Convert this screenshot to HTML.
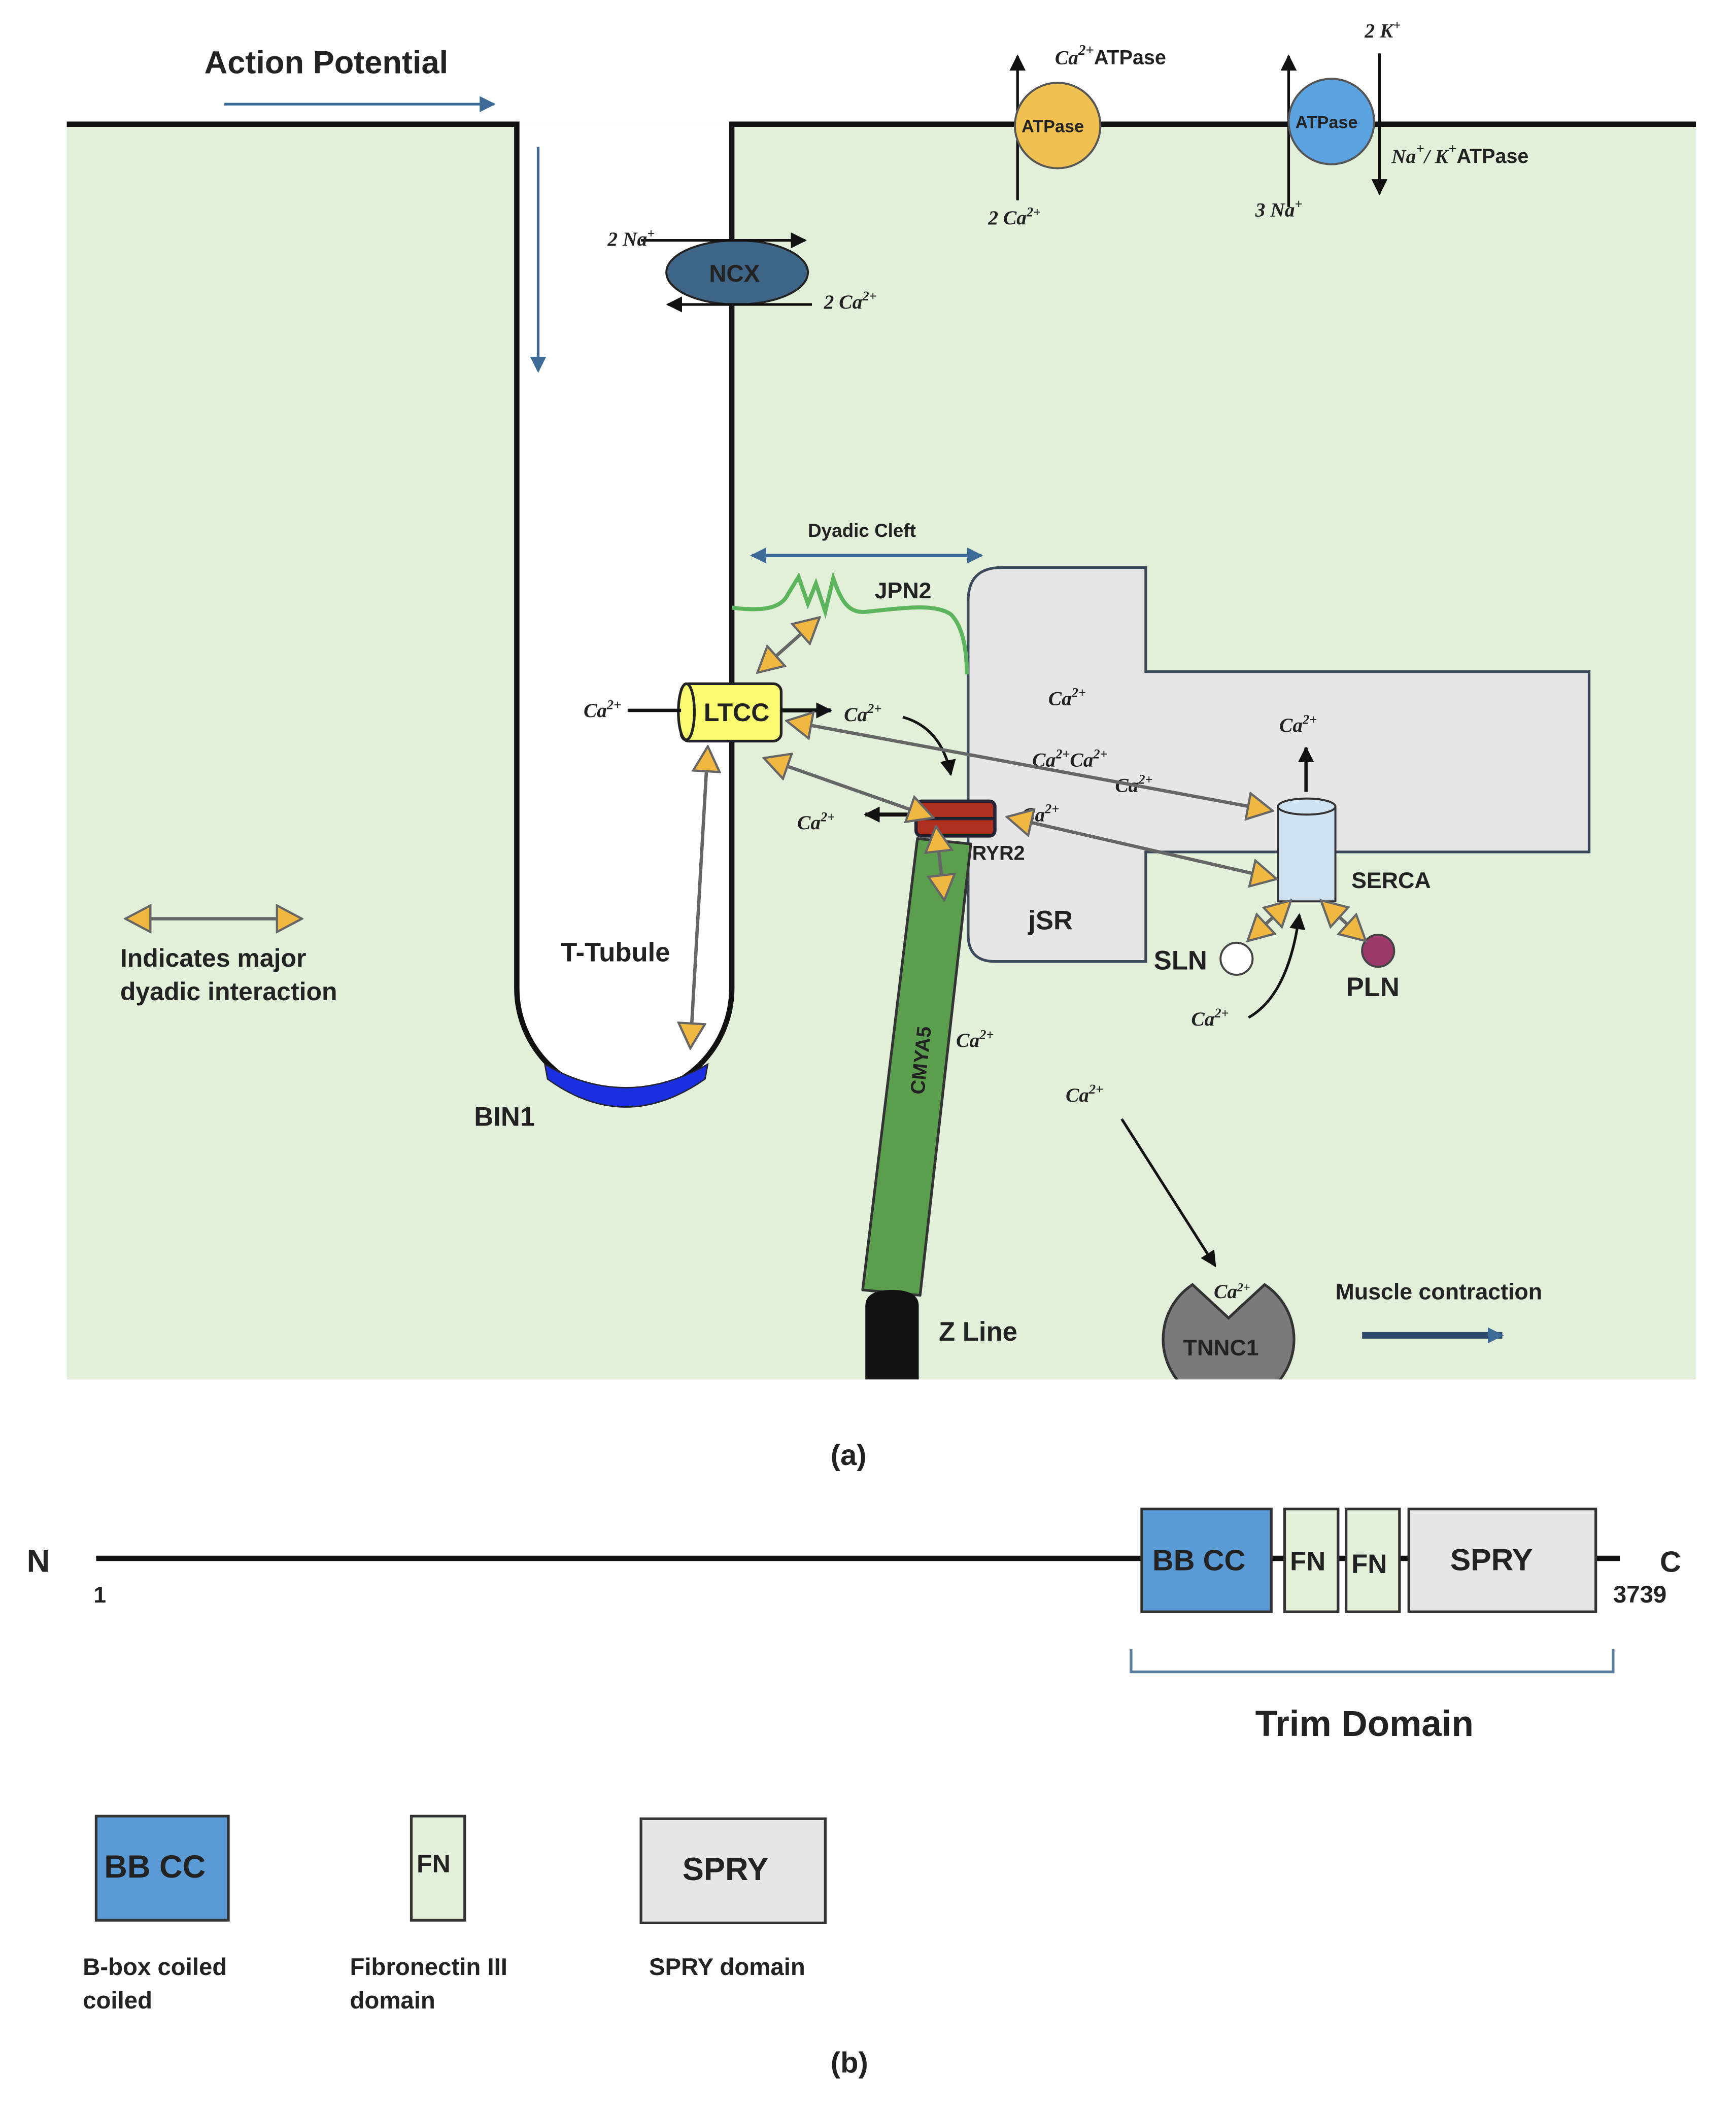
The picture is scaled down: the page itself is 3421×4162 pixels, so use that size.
<!DOCTYPE html>
<html><head><meta charset="utf-8"><style>
html,body{margin:0;padding:0;background:#fff}
svg{display:block}
text{font-family:"Liberation Sans",sans-serif;font-weight:bold;fill:#222}
.i{font-family:"Liberation Serif",serif;font-style:italic;font-weight:bold;font-size:15px}
</style></head><body>
<svg width="3421" height="4162" viewBox="0 0 1300 1581.6" preserveAspectRatio="none" xmlns="http://www.w3.org/2000/svg">
<defs>
<marker id="ot" viewBox="0 0 20 20" refX="18" refY="10" markerWidth="22" markerHeight="22" markerUnits="userSpaceOnUse" orient="auto-start-reverse">
<path d="M2,1 L19,10 L2,19 Z" fill="#f0b840" stroke="#666" stroke-width="1.5"/></marker>
<marker id="ba" viewBox="0 0 10 10" refX="9" refY="5" markerWidth="12" markerHeight="12" markerUnits="userSpaceOnUse" orient="auto-start-reverse">
<path d="M0,0 L10,5 L0,10 Z" fill="#111"/></marker>
<marker id="bl" viewBox="0 0 10 10" refX="9" refY="5" markerWidth="12" markerHeight="12" markerUnits="userSpaceOnUse" orient="auto-start-reverse">
<path d="M0,0 L10,5 L0,10 Z" fill="#3d6a96"/></marker>
<clipPath id="cp"><rect x="0" y="0" width="1300" height="1033"/></clipPath>
</defs>
<rect x="50" y="93" width="1220" height="940" fill="#e2efd9"/>
<path d="M387,93 V740 A80.5,80.5 0 0 0 548,740 V93 Z" fill="#fff"/>
<path d="M50,93 H387 V740 A80.5,80.5 0 0 0 548,740 V93 H1270" fill="none" stroke="#111" stroke-width="4"/>
<path d="M408,797 Q468,832 530,797 L528,808 Q468,850 410,808 Z" fill="#1a2fe0" stroke="#223" stroke-width="1"/>
<text x="153" y="55" font-size="24">Action Potential</text>
<line x1="168" y1="78" x2="370" y2="78" stroke="#3d6a96" stroke-width="2" marker-end="url(#bl)"/>
<line x1="403" y1="110" x2="403" y2="278" stroke="#3d6a96" stroke-width="2" marker-end="url(#bl)"/>
<line x1="762" y1="150" x2="762" y2="42" stroke="#111" stroke-width="2" marker-end="url(#ba)"/>
<circle cx="792" cy="94" r="32" fill="#f0c050" stroke="#555" stroke-width="1.5"/>
<text x="765" y="99" font-size="13">ATPase</text>
<text x="790" y="48" class="i" font-size="18">Ca<tspan dy="-7" font-size="11">2+</tspan><tspan dy="7" font-family="Liberation Sans" font-style="normal">ATPase</tspan></text>
<text x="740" y="168" class="i">2 Ca<tspan dy="-6" font-size="10">2+</tspan></text>
<line x1="965" y1="155" x2="965" y2="42" stroke="#111" stroke-width="2" marker-end="url(#ba)"/>
<line x1="1033" y1="40" x2="1033" y2="145" stroke="#111" stroke-width="2" marker-end="url(#ba)"/>
<circle cx="997" cy="91" r="32" fill="#5ba3e0" stroke="#555" stroke-width="1.5"/>
<text x="970" y="96" font-size="13">ATPase</text>
<text x="1022" y="28" class="i">2 K<tspan dy="-6" font-size="10">+</tspan></text>
<text x="1042" y="122" class="i" font-size="18">Na<tspan dy="-7" font-size="11">+</tspan><tspan dy="7">/ K</tspan><tspan dy="-7" font-size="11">+</tspan><tspan dy="7" font-family="Liberation Sans" font-style="normal">ATPase</tspan></text>
<text x="940" y="162" class="i">3 Na<tspan dy="-6" font-size="10">+</tspan></text>
<ellipse cx="552" cy="204" rx="53" ry="24" fill="#3e6486" stroke="#222" stroke-width="1.5"/>
<text x="531" y="211" font-size="18" fill="#1d2c3a">NCX</text>
<line x1="480" y1="180" x2="603" y2="180" stroke="#111" stroke-width="2" marker-end="url(#ba)"/>
<text x="455" y="184" class="i">2 Na<tspan dy="-6" font-size="10">+</tspan></text>
<line x1="608" y1="228" x2="500" y2="228" stroke="#111" stroke-width="2" marker-end="url(#ba)"/>
<text x="617" y="231" class="i">2 Ca<tspan dy="-6" font-size="10">2+</tspan></text>
<line x1="563" y1="416" x2="735" y2="416" stroke="#3d6a96" stroke-width="2.5" marker-start="url(#bl)" marker-end="url(#bl)"/>
<text x="605" y="402" font-size="14">Dyadic Cleft</text>
<path d="M725,450 Q725,425 750,425 H858 V503 H1190 V638 H858 V720 H745 Q725,720 725,700 Z" fill="#e6e6e6" stroke="#3a4a5a" stroke-width="2"/>
<path d="M548,455 C570,458 585,456 590,445 L598,432 L605,452 L611,437 L618,458 L624,433 C630,450 635,460 650,458 C680,455 700,452 712,460 C722,470 724,490 724,505" fill="none" stroke="#5cb55c" stroke-width="3"/>
<text x="655" y="448" font-size="17">JPN2</text>
<path d="M687,628 L727,632 L689,970 L646,966 Z" fill="#5a9e4e" stroke="#333" stroke-width="2" stroke-linejoin="round"/>
<text transform="translate(692,820) rotate(-84)" font-size="15">CMYA5</text>
<path d="M648,1033 V978 Q648,966 668,966 Q688,966 688,978 V1033 Z" fill="#111"/>
<text x="703" y="1004" font-size="20">Z Line</text>
<rect x="510" y="512" width="75" height="43" rx="6" fill="#fafa70" stroke="#222" stroke-width="2"/>
<ellipse cx="514" cy="533" rx="6" ry="21" fill="#fafa70" stroke="#222" stroke-width="2"/>
<text x="527" y="540" font-size="19">LTCC</text>
<line x1="470" y1="532" x2="510" y2="532" stroke="#111" stroke-width="2.5"/>
<text x="437" y="537" class="i">Ca<tspan dy="-6" font-size="10">2+</tspan></text>
<line x1="585" y1="532" x2="622" y2="532" stroke="#111" stroke-width="3" marker-end="url(#ba)"/>
<text x="632" y="540" class="i">Ca<tspan dy="-6" font-size="10">2+</tspan></text>
<path d="M676,537 Q705,545 712,580" fill="none" stroke="#111" stroke-width="2" marker-end="url(#ba)"/>
<rect x="686" y="600" width="59" height="26" rx="4" fill="#b03020" stroke="#223" stroke-width="2.5"/>
<line x1="690" y1="613" x2="745" y2="613" stroke="#223" stroke-width="2.5"/>
<text x="728" y="644" font-size="15">RYR2</text>
<line x1="683" y1="610" x2="648" y2="610" stroke="#111" stroke-width="3" marker-end="url(#ba)"/>
<text x="597" y="621" class="i">Ca<tspan dy="-6" font-size="10">2+</tspan></text>
<text x="765" y="615" class="i">Ca<tspan dy="-6" font-size="10">2+</tspan></text>
<rect x="957" y="604" width="43" height="71" fill="#cfe3f2" stroke="#333" stroke-width="1.5"/>
<ellipse cx="978.5" cy="604" rx="21.5" ry="6" fill="#cfe3f2" stroke="#333" stroke-width="1.5"/>
<line x1="978" y1="593" x2="978" y2="560" stroke="#111" stroke-width="2.5" marker-end="url(#ba)"/>
<text x="958" y="548" class="i">Ca<tspan dy="-6" font-size="10">2+</tspan></text>
<text x="1012" y="665" font-size="17">SERCA</text>
<circle cx="926" cy="718" r="12" fill="#fff" stroke="#444" stroke-width="1.5"/>
<text x="864" y="726" font-size="20">SLN</text>
<circle cx="1032" cy="712" r="12" fill="#9b3a6a" stroke="#444" stroke-width="1.5"/>
<text x="1008" y="746" font-size="20">PLN</text>
<path d="M935,762 Q965,745 973,685" fill="none" stroke="#111" stroke-width="2" marker-end="url(#ba)"/>
<text x="892" y="768" class="i">Ca<tspan dy="-6" font-size="10">2+</tspan></text>
<text x="785" y="528" class="i">Ca<tspan dy="-6" font-size="10">2+</tspan></text>
<text x="773" y="574" class="i">Ca<tspan dy="-6" font-size="10">2+</tspan><tspan dy="6">Ca</tspan><tspan dy="-6" font-size="10">2+</tspan></text>
<text x="835" y="593" class="i">Ca<tspan dy="-6" font-size="10">2+</tspan></text>
<g stroke="#666" stroke-width="2.5" fill="none">
<line x1="568" y1="503" x2="613" y2="463" marker-start="url(#ot)" marker-end="url(#ot)"/>
<line x1="530" y1="560" x2="517" y2="784" marker-start="url(#ot)" marker-end="url(#ot)"/>
<line x1="590" y1="540" x2="952" y2="607" marker-start="url(#ot)" marker-end="url(#ot)"/>
<line x1="573" y1="568" x2="698" y2="612" marker-start="url(#ot)" marker-end="url(#ot)"/>
<line x1="701" y1="620" x2="707" y2="673" marker-start="url(#ot)" marker-end="url(#ot)"/>
<line x1="755" y1="612" x2="955" y2="658" marker-start="url(#ot)" marker-end="url(#ot)"/>
<line x1="935" y1="704" x2="966" y2="675" marker-start="url(#ot)" marker-end="url(#ot)"/>
<line x1="990" y1="675" x2="1022" y2="704" marker-start="url(#ot)" marker-end="url(#ot)"/>
<line x1="95" y1="688" x2="225" y2="688" marker-start="url(#ot)" marker-end="url(#ot)"/>
</g>
<text x="90" y="724" font-size="19">Indicates major</text>
<text x="90" y="749" font-size="19">dyadic interaction</text>
<text x="420" y="720" font-size="20">T-Tubule</text>
<text x="355" y="843" font-size="20">BIN1</text>
<text x="770" y="696" font-size="20">jSR</text>
<text x="716" y="784" class="i">Ca<tspan dy="-6" font-size="10">2+</tspan></text>
<text x="798" y="825" class="i">Ca<tspan dy="-6" font-size="10">2+</tspan></text>
<line x1="840" y1="838" x2="910" y2="948" stroke="#111" stroke-width="2" marker-end="url(#ba)"/>
<g clip-path="url(#cp)">
<path d="M893,962 L920,987 L947,962 A49,49 0 1 1 893,962 Z" fill="#7a7a7a" stroke="#333" stroke-width="2"/>
</g>
<text x="886" y="1015" font-size="17" fill="#1a1a1a">TNNC1</text>
<text x="909" y="972" class="i" font-size="13">Ca<tspan dy="-5" font-size="9">2+</tspan></text>
<text x="1000" y="973" font-size="17">Muscle contraction</text>
<line x1="1020" y1="1000" x2="1125" y2="1000" stroke="#2d4a6a" stroke-width="5" marker-end="url(#bl)"/>
<text x="622" y="1097" font-family="Liberation Serif" font-weight="normal" font-size="22">(<tspan font-weight="bold">a</tspan>)</text>
<text x="20" y="1177" font-size="24">N</text>
<line x1="72" y1="1167" x2="1213" y2="1167" stroke="#111" stroke-width="4"/>
<rect x="855" y="1130" width="97" height="77" fill="#5b9bd5" stroke="#333" stroke-width="2"/>
<text x="863" y="1176" font-size="22">BB CC</text>
<rect x="962" y="1130" width="40" height="77" fill="#e2efd9" stroke="#333" stroke-width="2"/>
<text x="966" y="1176" font-size="20">FN</text>
<rect x="1008" y="1130" width="40" height="77" fill="#e2efd9" stroke="#333" stroke-width="2"/>
<text x="1012" y="1178" font-size="20">FN</text>
<rect x="1055" y="1130" width="140" height="77" fill="#e6e6e6" stroke="#333" stroke-width="2"/>
<text x="1086" y="1176" font-size="23">SPRY</text>
<text x="1243" y="1177" font-size="22">C</text>
<text x="70" y="1200" font-size="17">1</text>
<text x="1208" y="1200" font-size="18">3739</text>
<path d="M847,1235 V1252 H1208 V1235" fill="none" stroke="#5a7da0" stroke-width="2"/>
<text x="940" y="1300" font-size="27">Trim Domain</text>
<rect x="72" y="1360" width="99" height="78" fill="#5b9bd5" stroke="#333" stroke-width="2"/>
<text x="78" y="1406" font-size="24">BB CC</text>
<rect x="308" y="1360" width="40" height="78" fill="#e2efd9" stroke="#333" stroke-width="2"/>
<text x="312" y="1402" font-size="19">FN</text>
<rect x="480" y="1362" width="138" height="78" fill="#e6e6e6" stroke="#333" stroke-width="2"/>
<text x="511" y="1408" font-size="24">SPRY</text>
<text x="62" y="1479" font-size="18">B-box coiled</text>
<text x="62" y="1504" font-size="18">coiled</text>
<text x="262" y="1479" font-size="18">Fibronectin III</text>
<text x="262" y="1504" font-size="18">domain</text>
<text x="486" y="1479" font-size="18">SPRY domain</text>
<text x="622" y="1552" font-family="Liberation Serif" font-weight="normal" font-size="22">(<tspan font-weight="bold">b</tspan>)</text>
</svg>
</body></html>
